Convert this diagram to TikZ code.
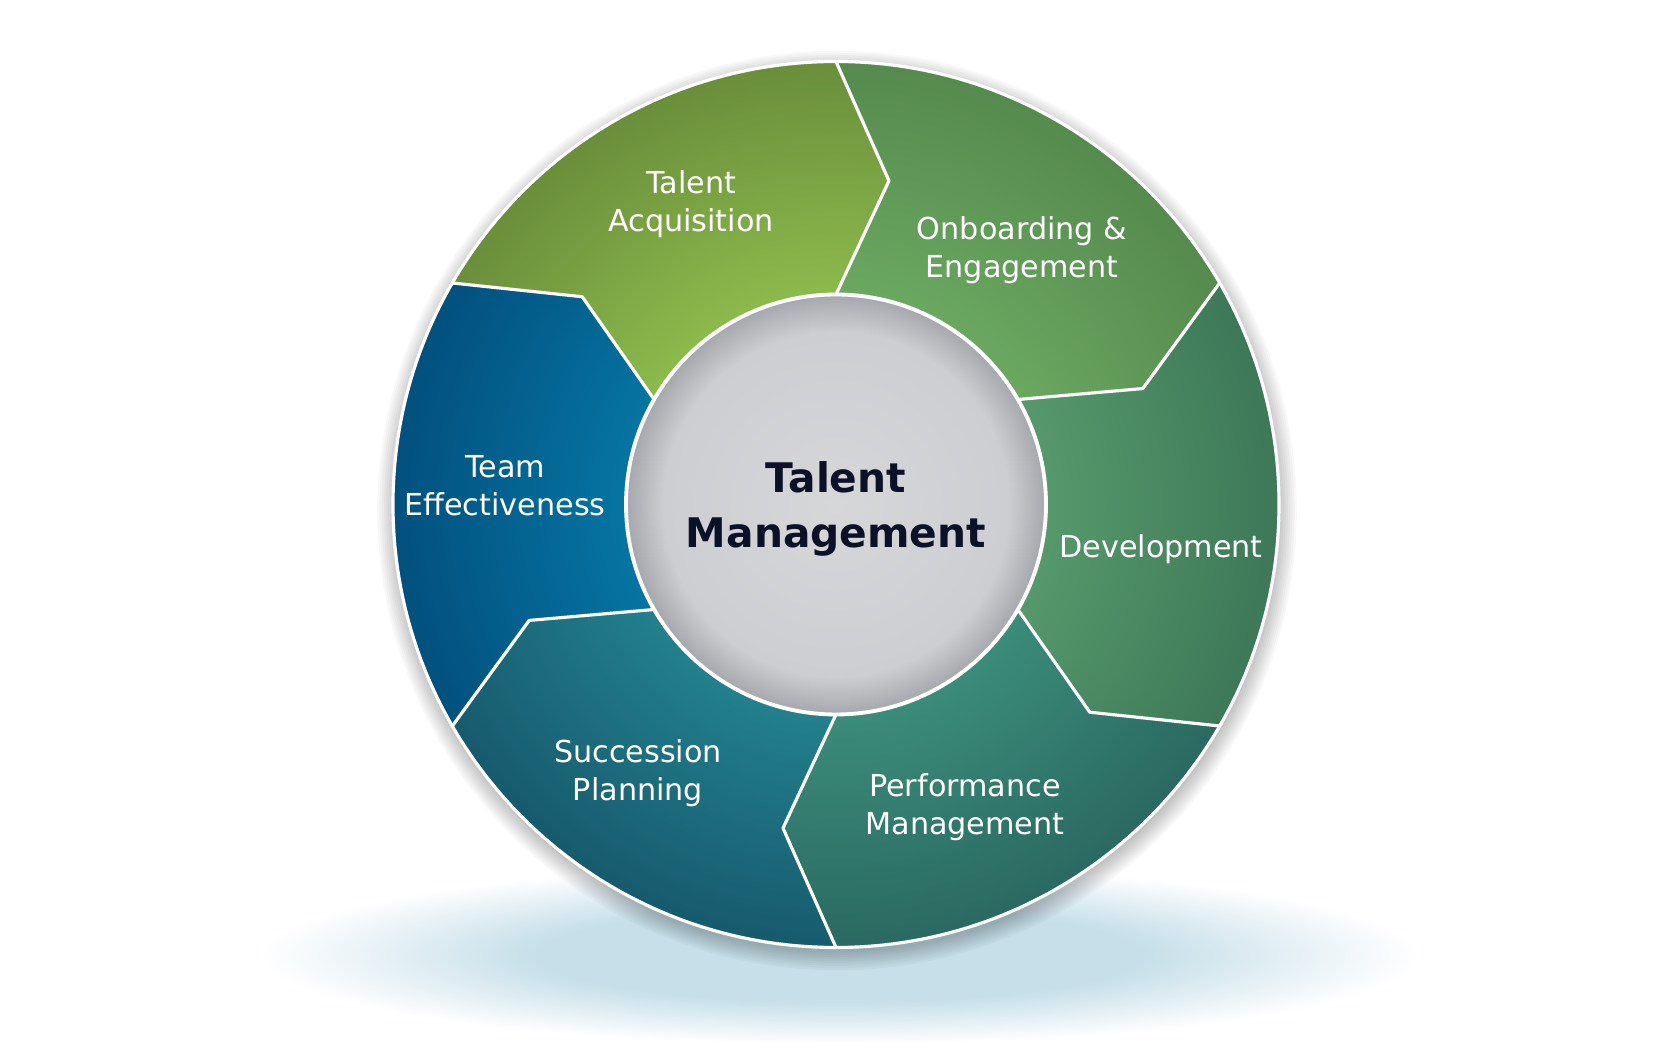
\documentclass[tikz,border=0pt]{standalone}
\usepackage{fontspec}
\setmainfont{DejaVu Sans}
\usetikzlibrary{calc}

\definecolor{acqin}{HTML}{8CBA4C}   \definecolor{acqout}{HTML}{6A8E3B}
\definecolor{onbin}{HTML}{6AA860}   \definecolor{onbout}{HTML}{568A4E}
\definecolor{devin}{HTML}{56996B}   \definecolor{devout}{HTML}{3D7858}
\definecolor{perfin}{HTML}{3B8C7A}  \definecolor{perfout}{HTML}{2A6961}
\definecolor{succin}{HTML}{22808C}  \definecolor{succout}{HTML}{175A6E}
\definecolor{teamin}{HTML}{0674A2}  \definecolor{teamout}{HTML}{02507E}
\definecolor{hubc}{HTML}{D6D7D9}
\definecolor{hubm}{HTML}{CDCED1}
\definecolor{hube}{HTML}{A6A7AC}
\definecolor{hubtext}{HTML}{0B1126}
\definecolor{glowc}{HTML}{C6DFE9}
\colorlet{ringin}{acqin}
\colorlet{ringout}{acqout}

\pgfdeclareradialshading[ringin,ringout]{ring}{\pgfpoint{0bp}{0bp}}{color(0bp)=(ringin); color(11.85bp)=(ringin); color(25bp)=(ringout); color(50bp)=(ringout)}
\pgfdeclareradialshading{hub}{\pgfpoint{0bp}{0bp}}{color(0bp)=(hubc); color(20.5bp)=(hubm); color(25bp)=(hube); color(50bp)=(hube)}
\pgfdeclareradialshading{glow}{\pgfpoint{0bp}{0bp}}{color(0bp)=(glowc); color(13bp)=(glowc); color(25bp)=(white); color(50bp)=(white)}

\begin{document}
\begin{tikzpicture}[
  seglabel/.style={text=white, align=center, font=\fontsize{8.6}{10.8}\selectfont},
  rim/.style={draw=white, line width=0.9pt, line join=round}]
  \path[use as bounding box, fill=white] (0,0) rectangle (16.67,10.42);
  \coordinate (C) at (8.36,5.375);

  % blue glow under the wheel
  \shade[shading=glow] (8.40,0.87) ellipse (5.8 and 0.9);

  % soft shadow round the wheel
  \foreach \k in {1,...,9}
    \fill[black, opacity=0.028] ($(C)+(0.01,-0.06)$) circle ({4.40+0.022*\k});

  \begin{scope}[shift={(C)}]
    % Talent Acquisition
    \colorlet{ringin}{acqin}\colorlet{ringout}{acqout}
    \begin{scope}
      \clip (150:4.43) arc[start angle=150, end angle=90, radius=4.43] -- (80.7:3.28)
        -- (90:2.10) arc[start angle=90, end angle=150, radius=2.10] -- (140.7:3.28) -- cycle;
      \shade[shading=ring] (0,0) circle (4.43);
    \end{scope}
    % Onboarding & Engagement
    \colorlet{ringin}{onbin}\colorlet{ringout}{onbout}
    \begin{scope}
      \clip (90:4.43) arc[start angle=90, end angle=30, radius=4.43] -- (20.7:3.28)
        -- (30:2.10) arc[start angle=30, end angle=90, radius=2.10] -- (80.7:3.28) -- cycle;
      \shade[shading=ring] (0,0) circle (4.43);
    \end{scope}
    % Development
    \colorlet{ringin}{devin}\colorlet{ringout}{devout}
    \begin{scope}
      \clip (30:4.43) arc[start angle=30, end angle=-30, radius=4.43] -- (-39.3:3.28)
        -- (-30:2.10) arc[start angle=-30, end angle=30, radius=2.10] -- (20.7:3.28) -- cycle;
      \shade[shading=ring] (0,0) circle (4.43);
    \end{scope}
    % Performance Management
    \colorlet{ringin}{perfin}\colorlet{ringout}{perfout}
    \begin{scope}
      \clip (-30:4.43) arc[start angle=-30, end angle=-90, radius=4.43] -- (-99.3:3.28)
        -- (-90:2.10) arc[start angle=-90, end angle=-30, radius=2.10] -- (-39.3:3.28) -- cycle;
      \shade[shading=ring] (0,0) circle (4.43);
    \end{scope}
    % Succession Planning
    \colorlet{ringin}{succin}\colorlet{ringout}{succout}
    \begin{scope}
      \clip (-90:4.43) arc[start angle=-90, end angle=-150, radius=4.43] -- (-159.3:3.28)
        -- (-150:2.10) arc[start angle=-150, end angle=-90, radius=2.10] -- (-99.3:3.28) -- cycle;
      \shade[shading=ring] (0,0) circle (4.43);
    \end{scope}
    % Team Effectiveness
    \colorlet{ringin}{teamin}\colorlet{ringout}{teamout}
    \begin{scope}
      \clip (-150:4.43) arc[start angle=-150, end angle=-210, radius=4.43] -- (-219.3:3.28)
        -- (-210:2.10) arc[start angle=-210, end angle=-150, radius=2.10] -- (-159.3:3.28) -- cycle;
      \shade[shading=ring] (0,0) circle (4.43);
    \end{scope}

    % white separators
    \draw[rim] (90:4.43) -- (80.7:3.28) -- (90:2.10);
    \draw[rim] (30:4.43) -- (20.7:3.28) -- (30:2.10);
    \draw[rim] (-30:4.43) -- (-39.3:3.28) -- (-30:2.10);
    \draw[rim] (-90:4.43) -- (-99.3:3.28) -- (-90:2.10);
    \draw[rim] (-150:4.43) -- (-159.3:3.28) -- (-150:2.10);
    \draw[rim] (150:4.43) -- (140.7:3.28) -- (150:2.10);
    \draw[rim] (0,0) circle (4.43);

    % hub
    \shade[shading=hub] (0,0) circle (2.10);
    \draw[rim, line width=1.1pt] (0,0) circle (2.10);
  \end{scope}

  \node[text=hubtext, align=center, font=\fontsize{11.6}{15.6}\selectfont\bfseries] (hub) at (8.36,5.33) {Talent\\Management};
  \node[seglabel] (acq) at (6.91,8.38) {Talent\\Acquisition};
  \node[seglabel] (onb) at (10.22,7.92) {Onboarding \&\\Engagement};
  \node[seglabel] (dev) at (11.61,4.93) {Development};
  \node[seglabel] (perf) at (9.65,2.35) {Performance\\Management};
  \node[seglabel] (succ) at (6.38,2.69) {Succession\\Planning};
  \node[seglabel] (team) at (5.05,5.56) {Team\\Effectiveness};
\end{tikzpicture}
\end{document}
